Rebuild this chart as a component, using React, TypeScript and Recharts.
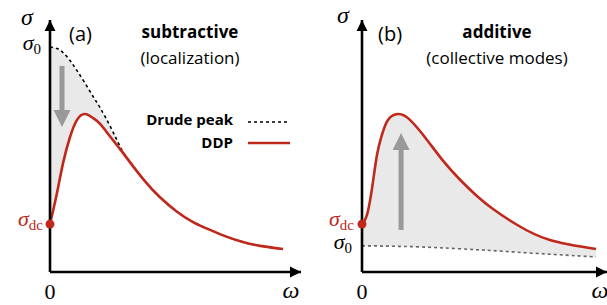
import {
  ComposedChart,
  Area,
  Line,
  XAxis,
  YAxis,
  ReferenceLine,
  ReferenceDot,
} from 'recharts';

// panel (a): subtractive
const omegaA = [0, 0.3, 0.56, 0.86, 1.16, 1.5, 1.85, 2.15, 2.58, 3.0, 3.3, 3.99, 4.72, 5.45, 6.14, 6.87, 7.6, 8.28, 9.01, 10];
const ddpA = [0.213, 0.351, 0.484, 0.6, 0.676, 0.702, 0.684, 0.658, 0.602, 0.547, 0.506, 0.414, 0.332, 0.268, 0.222, 0.187, 0.156, 0.133, 0.116, 0.102];
const drudeA = [1.0, 0.993, 0.975, 0.94, 0.895, 0.84, 0.78, 0.73, 0.648, 0.559, 0.508, 0.414, 0.332, 0.268, 0.222, 0.187, 0.156, 0.133, 0.116, 0.102];

// panel (b): additive
const omegaB = [0, 0.21, 0.43, 0.64, 0.85, 1.11, 1.54, 2.05, 2.78, 3.46, 4.19, 4.91, 5.6, 6.62, 8.03, 10];
const ddpB = [0.213, 0.253, 0.373, 0.52, 0.609, 0.676, 0.702, 0.676, 0.587, 0.495, 0.41, 0.338, 0.28, 0.21, 0.142, 0.102];
const drudeB = [0.116, 0.116, 0.116, 0.116, 0.115, 0.115, 0.114, 0.113, 0.11, 0.107, 0.103, 0.099, 0.095, 0.088, 0.079, 0.067];

// gray arrows: omega, from, to
const arrowA = { w: 0.515, from: 0.916, to: 0.644 };
const arrowB = { w: 1.67, from: 0.187, to: 0.618 };

const RED = '#c0281c';
const GRAY_FILL = '#e9e9e9';
const SANS = '"Open Sans", Lato, sans-serif';
const SERIF = '"Liberation Serif", "DejaVu Serif", serif';
const Y_MAX = 1.12;

const tableA = omegaA.map((w, i) => ({ w, ddp: ddpA[i], drude: drudeA[i], band: [ddpA[i], drudeA[i]] }));
const tableB = omegaB.map((w, i) => ({ w, ddp: ddpB[i], drude: drudeB[i], band: [drudeB[i], ddpB[i]] }));

const tri =
  (dir: 'up' | 'down' | 'right', len: number, half: number, color: string) =>
  (p: any) => {
    const { cx, cy } = p;
    let pts = '';
    if (dir === 'up') pts = `${cx},${cy} ${cx - half},${cy + len} ${cx + half},${cy + len}`;
    if (dir === 'down') pts = `${cx},${cy} ${cx - half},${cy - len} ${cx + half},${cy - len}`;
    if (dir === 'right') pts = `${cx},${cy} ${cx - len},${cy - half} ${cx - len},${cy + half}`;
    return <polygon points={pts} fill={color} />;
  };

function Panel({
  data,
  xMax,
  margin,
  width,
  drudeColor,
  arrow,
  arrowUp,
}: {
  data: any[];
  xMax: number;
  margin: any;
  width: number;
  drudeColor: string;
  arrow: { w: number; from: number; to: number };
  arrowUp: boolean;
}) {
  const headLen = 17 / 225;
  const shaftEnd = arrowUp ? arrow.to - headLen : arrow.to + headLen;
  return (
    <ComposedChart width={width} height={305} data={data} margin={margin}>
      <XAxis type="number" dataKey="w" domain={[0, xMax]} hide />
      <YAxis type="number" domain={[0, Y_MAX]} hide />
      <Area
        type="natural"
        dataKey="band"
        stroke="none"
        fill={GRAY_FILL}
        fillOpacity={1}
        isAnimationActive={false}
      />
      <Line
        type="natural"
        dataKey="drude"
        stroke={drudeColor}
        strokeWidth={1.6}
        strokeDasharray="3 3"
        dot={false}
        isAnimationActive={false}
      />
      <Line
        type="natural"
        dataKey="ddp"
        stroke={RED}
        strokeWidth={2.6}
        dot={false}
        isAnimationActive={false}
      />
      <ReferenceLine
        segment={[
          { x: arrow.w, y: arrow.from },
          { x: arrow.w, y: shaftEnd },
        ]}
        stroke="#999"
        strokeWidth={5}
      />
      <ReferenceDot
        x={arrow.w}
        y={arrow.to}
        shape={tri(arrowUp ? 'up' : 'down', 17, 8.5, '#999')}
      />
      <ReferenceLine y={0} stroke="#000" strokeWidth={2.6} />
      <ReferenceLine x={0} stroke="#000" strokeWidth={2.6} />
      <ReferenceDot x={xMax} y={0} shape={tri('right', 11, 5.5, '#000')} />
      <ReferenceDot x={0} y={Y_MAX} shape={tri('up', 11, 5.5, '#000')} />
      <ReferenceDot x={0} y={data[0].ddp} r={4.5} fill={RED} stroke="none" />
    </ComposedChart>
  );
}

function Sigma({ x, y, sub, color = '#000', anchor = 'end' }: any) {
  return (
    <text x={x} y={y} textAnchor={anchor} fill={color} fontFamily={SERIF} fontSize={22}>
      <tspan fontStyle="italic">σ</tspan>
      <tspan fontSize={15} dy={4}>
        {sub}
      </tspan>
    </text>
  );
}

export default function App() {
  return (
    <div
      style={{
        position: 'absolute',
        left: 0,
        top: 0,
        width: 607,
        height: 305,
        background: '#fff',
        overflow: 'hidden',
      }}
    >
      <div style={{ position: 'absolute', left: 0, top: 0 }}>
        <Panel
          data={tableA}
          xMax={251 / 23.3}
          width={305}
          margin={{ top: 20, right: 4, bottom: 33, left: 50 }}
          drudeColor="#000"
          arrow={arrowA}
          arrowUp={false}
        />
      </div>
      <div style={{ position: 'absolute', left: 305, top: 0 }}>
        <Panel
          data={tableB}
          xMax={245 / 23.4}
          width={302}
          margin={{ top: 20, right: 0, bottom: 33, left: 57 }}
          drudeColor="#666"
          arrow={arrowB}
          arrowUp={true}
        />
      </div>
      <svg
        width={607}
        height={305}
        style={{ position: 'absolute', left: 0, top: 0, pointerEvents: 'none' }}
      >
        {/* panel (a) */}
        <text x={27} y={25} textAnchor="middle" fontFamily={SERIF} fontStyle="italic" fontSize={24}>
          σ
        </text>
        <Sigma x={41} y={50} sub="0" />
        <text x={69} y={41} fontFamily={SANS} fontSize={20}>
          (a)
        </text>
        <text x={190} y={38} textAnchor="middle" fontFamily={SANS} fontWeight={700} fontSize={17}>
          subtractive
        </text>
        <text x={190} y={64} textAnchor="middle" fontFamily={SANS} fontSize={17}>
          (localization)
        </text>
        <text x={233} y={125} textAnchor="end" fontFamily={SANS} fontWeight={700} fontSize={15}>
          Drude peak
        </text>
        <line x1={248} x2={290} y1={122} y2={122} stroke="#000" strokeWidth={1.6} strokeDasharray="3 3" />
        <text x={233} y={148} textAnchor="end" fontFamily={SANS} fontWeight={700} fontSize={15}>
          DDP
        </text>
        <line x1={248} x2={290} y1={143} y2={143} stroke={RED} strokeWidth={2.6} />
        <Sigma x={43} y={226} sub="dc" color={RED} />
        <text x={50} y={299} textAnchor="middle" fontFamily={SERIF} fontSize={22}>
          0
        </text>
        <text x={291} y={298} textAnchor="middle" fontFamily={SERIF} fontStyle="italic" fontSize={24}>
          ω
        </text>

        {/* panel (b) */}
        <text x={343} y={23} textAnchor="middle" fontFamily={SERIF} fontStyle="italic" fontSize={24}>
          σ
        </text>
        <text x={378} y={41} fontFamily={SANS} fontSize={20}>
          (b)
        </text>
        <text x={497} y={38} textAnchor="middle" fontFamily={SANS} fontWeight={700} fontSize={17}>
          additive
        </text>
        <text x={497} y={64} textAnchor="middle" fontFamily={SANS} fontSize={17}>
          (collective modes)
        </text>
        <Sigma x={354} y={226} sub="dc" color={RED} />
        <Sigma x={352} y={249} sub="0" />
        <text x={362} y={299} textAnchor="middle" fontFamily={SERIF} fontSize={22}>
          0
        </text>
        <text x={600} y={298} textAnchor="middle" fontFamily={SERIF} fontStyle="italic" fontSize={24}>
          ω
        </text>
      </svg>
    </div>
  );
}
